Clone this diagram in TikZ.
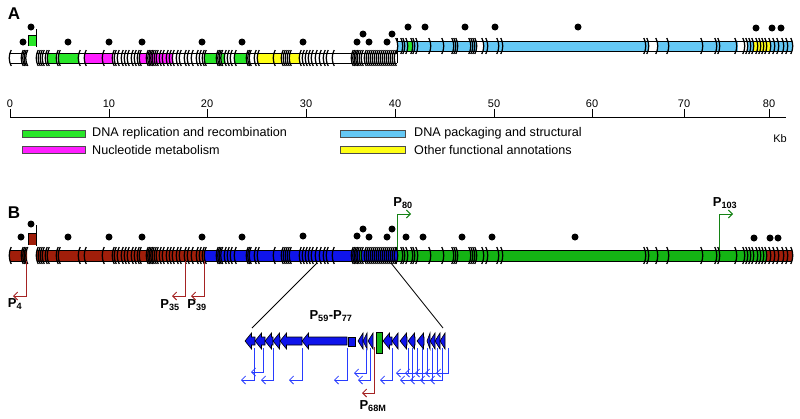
\documentclass[tikz,border=0pt]{standalone}
\usepackage{fontspec}
\setmainfont{Liberation Sans}
\usetikzlibrary{arrows.meta}
\definecolor{gA}{RGB}{40,230,40}
\definecolor{mA}{RGB}{255,30,255}
\definecolor{bA}{RGB}{100,200,245}
\definecolor{yA}{RGB}{255,255,20}
\definecolor{rB}{RGB}{160,30,10}
\definecolor{bB}{RGB}{15,20,235}
\definecolor{gB}{RGB}{20,180,20}
\definecolor{gP}{RGB}{20,130,20}
\definecolor{rP}{RGB}{165,35,35}
\definecolor{bP}{RGB}{40,60,255}
\newcommand\mkL[3]{\draw[bd] (#1+1.2,#2) .. controls (#1-1.4,#2+5) and (#1-1.4,#3-5) .. (#1+1.2,#3);}
\newcommand\mkR[3]{\draw[bd] (#1-1.2,#2) .. controls (#1+1.4,#2+5) and (#1+1.4,#3-5) .. (#1-1.2,#3);}
\def\Lb{10,22,23.5,25,26.5,37,39,41,43,46,48,57,59,79,85,103,113,115,118,122,125,128,132,135,138,140,147,148.5,150,151.5,153,155,157,160,163,167,170,173,177,180,185,188,192,197,200,203,205,217,218.5,220,221.5,225,228,231,235,247,248.5,250,255,258,274,282,284,286,288,290,300,303,306,309,312,316,320,324,327,333,352,353.5,355,356.5,358,360,362,365,367,369,371,373,375,377,379,381,383,385,387,389,391,393,395}
\def\Rb{397,402,404,407,412,414,417,430,443,453,455,457,470,472,474,476,483,487,498,502,645,648,657,668,702,716,719,736,744,747,750,753,757,760,763,766,770,774,778,783,787,792}
\begin{document}
\begin{tikzpicture}[x=1pt,y=-1pt,
  bd/.style={line width=1.25pt, black},
  bar/.style={line width=0.9pt, black},
  parr/.style={line width=0.9pt, -{Straight Barb[length=4pt,width=8pt]}},
  gene/.style={draw=black, line width=0.6pt, fill=bB},
  lab/.style={font=\bfseries\fontsize{13}{13}\selectfont, inner sep=0pt},
  panel/.style={font=\bfseries\fontsize{17}{17}\selectfont, inner sep=0pt},
  leg/.style={font=\fontsize{12.6}{12.6}\selectfont, inner sep=0pt, anchor=west},
  num/.style={font=\fontsize{11}{11}\selectfont, inner sep=0pt},
  lbox/.style={draw=black!70, line width=0.6pt}]
\useasboundingbox (0,0) rectangle (800,418);

% ---------------- Panel A ----------------
\node[panel] (labA) at (14,14) {A};
% left section (y 53-63)
\fill[white] (10,53) rectangle (27,63) (37,53) rectangle (397,63);
\fill[gA] (47,53) rectangle (57,63) (59,53) rectangle (79,63) (205,53) rectangle (217,63) (221,53) rectangle (225,63) (235,53) rectangle (247,63);
\fill[mA] (85,53) rectangle (113,63) (140,53) rectangle (147,63) (150,53) rectangle (173,63);
\fill[yA] (258,53) rectangle (282,63) (290,53) rectangle (300,63);
\draw[bar] (10,53) -- (27,53) (10,63) -- (27,63) (37,53) -- (397,53) (37,63) -- (397,63);
% right section (y 41-51)
\fill[bA] (397,41) rectangle (792,51);
\fill[gA] (407,41) rectangle (412,51);
\fill[white] (476,41) rectangle (483,51) (648,41) rectangle (657,51) (738,41) rectangle (747,51);
\fill[yA] (753,41) rectangle (770,51);
\draw[bar] (397,41) -- (792,41) (397,51) -- (792,51);
\draw[bar] (397,38) -- (397,63);
% raised gene
\fill[gA] (28,35) rectangle (36,46);
\draw[bar] (28,46) -- (28,35) -- (36,35) (36.5,29) -- (36.5,47);
\foreach \x in \Lb {\mkL{\x}{50}{66}}
\foreach \x in \Rb {\mkR{\x}{38}{54}}
% dots
\foreach \p in {(23,42),(31,27),(68,42),(109,42),(142,42),(202,42),(242,42),(303,42),(357,42),(363,34),(369,42),(387,42),(392,34),(408,27),(425,27),(465,27),(495,27),(578,27),(756,28),(772,28),(781,28)}
  \fill \p circle (3.5);

% ---------------- Axis ----------------
\coordinate (ax0) at (10,117);
\coordinate (ax1) at (786,117);
\draw[line width=0.9pt] (ax0) -- (ax1);
\foreach \x/\t in {10/0,109/10,207/20,306/30,395/40,494/50,592/60,684/70,769/80}
  {\draw[line width=0.7pt] (\x,117) -- (\x,109);
   \node[num] (t\t) at (\x,103.5) {\t};}
\node[num] (kb) at (780,139) {Kb};

% ---------------- Legend ----------------
\draw[lbox, fill=gA] (22,130) rectangle (85,137);
\node[leg] (l1) at (92,133.5) {DNA replication and recombination};
\draw[lbox, fill=mA] (22,146) rectangle (85,153);
\node[leg] (l2) at (92,149.5) {Nucleotide metabolism};
\draw[lbox, fill=bA] (340,130) rectangle (405,137);
\node[leg] (l3) at (414,133.5) {DNA packaging and structural};
\draw[lbox, fill=yA] (340,146) rectangle (405,153);
\node[leg] (l4) at (414,149.5) {Other functional annotations};

% ---------------- Panel B ----------------
\node[panel] (labB) at (14,213) {B};
\fill[rB] (10,250) rectangle (27,261) (37,250) rectangle (205,261) (766,250) rectangle (792,261);
\fill[bB] (205,250) rectangle (397,261);
\fill[gB] (359,250) rectangle (362,261) (397,250) rectangle (766,261);
\draw[bar] (10,250) -- (27,250) (10,261) -- (27,261) (37,250) -- (792,250) (37,261) -- (792,261);
\fill[rB] (28,233) rectangle (35.5,245);
\draw[bar] (28,245) -- (28,233) -- (35.5,233) (36.5,225) -- (36.5,246);
\foreach \x in \Lb {\mkL{\x}{247}{264}}
\foreach \x in \Rb {\mkR{\x}{247}{264}}
\foreach \p in {(21,237),(31,224),(68,237),(109,237),(142,237),(202,237),(242,237),(303,236),(357,236),(363,229),(369,237),(387,237),(392,229),(406,237),(423,237),(462,237),(492,237),(575,237),(754,238),(770,238),(778,238)}
  \fill \p circle (3.5);
% promoters
\draw[parr, rP] (26,261) -- (26,296) -- (13,296);
\draw[parr, rP] (185,261) -- (185,296) -- (172,296);
\draw[parr, rP] (204,261) -- (204,296) -- (191,296);
\draw[parr, gP] (397,250) -- (397,214) -- (411,214);
\draw[parr, gP] (719,250) -- (719,214) -- (733,214);
\node[lab] (p4) at (15,304) {P\textsubscript{4}};
\node[lab] (p35) at (170,305) {P\textsubscript{35}};
\node[lab] (p39) at (197,305) {P\textsubscript{39}};
\node[lab] (p80) at (403,203) {P\textsubscript{80}};
\node[lab] (p103) at (725,203) {P\textsubscript{103}};

% ---------------- Expanded region ----------------
\coordinate (zl) at (317,263);
\coordinate (zr) at (391,263);
\coordinate (el) at (252,328);
\coordinate (er) at (443,328);
\draw[line width=0.8pt] (zl) -- (el);
\draw[line width=0.8pt] (zr) -- (er);
\node[lab] (p5977) at (331,316) {P\textsubscript{59}-P\textsubscript{77}};
\foreach \t/\e in {245/255,255/265,265/273,273/280,280/302,302/347,358/363,363/367,368/373,383/392,392/398,400/407,408/415,417/424,427/430,430/435,435/440,440/445}
{\pgfmathsetmacro\h{min(6.5,\e-\t)}
 \draw[gene] (\t,341) -- (\t+\h,333) -- (\t+\h,337) -- (\e,337) -- (\e,345) -- (\t+\h,345) -- (\t+\h,349) -- cycle;}
\draw[gene] (348,337) rectangle (355,346);
\draw[draw=black, line width=0.6pt, fill=gB] (376,332) rectangle (382,353);
\foreach \x/\y/\e in {254/380/241,263/372/251,273/380/261,302/380/289,347/380/334,366/373/354,370/380/358,392/380/380,408/373/396,412/380/400,417/373/405,422/380/410,427/373/415,432/380/420,437/373/425,442/380/430,448/373/436}
  \draw[parr, bP, line width=0.8pt] (\x,348) -- (\x,\y) -- (\e,\y);
\draw[parr, rP] (374,347) -- (374,393) -- (362,393);
\node[lab] (p68) at (373,406) {P\textsubscript{68M}};
\end{tikzpicture}
\end{document}
